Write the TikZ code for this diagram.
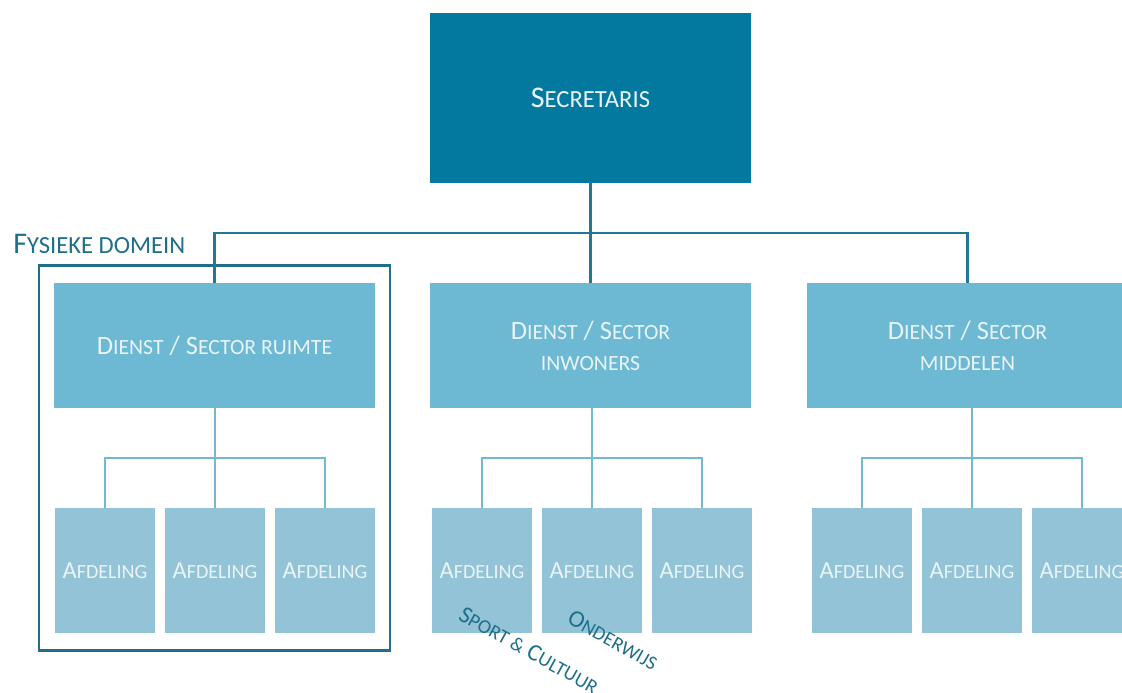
\documentclass[tikz,border=0pt]{standalone}
\usepackage{fontspec}
\setmainfont{Carlito}
\newfontfamily\scfont[Scale=0.82]{Carlito}
\newcommand{\sm}[1]{{\scfont\MakeUppercase{#1}}}
\usepackage{tikz}
\usetikzlibrary{shapes.geometric, arrows, positioning, calc, fit}

\definecolor{chiefblue}{HTML}{04799F}
\definecolor{sectorblue}{HTML}{6DB9D4}
\definecolor{unitblue}{HTML}{93C3D6}
\definecolor{boxtext}{HTML}{E9F4F8}
\definecolor{linedark}{HTML}{1F7894}
\definecolor{linelight}{HTML}{72B9D1}
\definecolor{domaintext}{HTML}{1F6F8B}

\tikzstyle{chief} = [rectangle, minimum width=321pt, minimum height=170pt, outer sep=0pt, fill=chiefblue, text=boxtext, font=\fontsize{30}{36}\selectfont]
\tikzstyle{sector} = [rectangle, minimum width=321pt, minimum height=125pt, outer sep=0pt, align=center, fill=sectorblue, text=boxtext, font=\fontsize{26.5}{31}\selectfont]
\tikzstyle{unit} = [rectangle, minimum width=100pt, minimum height=125pt, inner sep=0pt, outer sep=0pt, fill=unitblue, text=boxtext, font=\fontsize{24.5}{28}\selectfont]
\tikzstyle{domainbox} = [rectangle, draw=domaintext, line width=2.5pt, inner xsep=15pt, inner ysep=17.5pt]
\tikzstyle{taglabel} = [text=domaintext, font=\fontsize{24}{28}\selectfont, rotate=-29]
\tikzstyle{line} = [line width=2.5pt, draw=linedark]
\tikzstyle{subline} = [line width=2pt, draw=linelight]

\begin{document}
\begin{tikzpicture}[node distance=110pt]
\useasboundingbox (0,0) rectangle (1122pt,-693pt);
\clip (0,0) rectangle (1122pt,-693pt);

\node (secretaris) [chief] at (590.5pt,-98pt) {S\sm{ecretaris}};

\node (inwoners) [sector, below of=secretaris, node distance=247.5pt] {D\sm{ienst} / S\sm{ector}\\\sm{inwoners}};
\node (ruimte) [sector, left of=inwoners, node distance=376pt] {D\sm{ienst} / S\sm{ector ruimte}};
\node (middelen) [sector, right of=inwoners, node distance=377pt] {D\sm{ienst} / S\sm{ector}\\\sm{middelen}};

% afdelingen onder ruimte
\node (ruimte-1) [unit, below of=ruimte, node distance=225pt, xshift=-109.5pt] {A\sm{fdeling}};
\node (ruimte-2) [unit, right of=ruimte-1] {A\sm{fdeling}};
\node (ruimte-3) [unit, right of=ruimte-2] {A\sm{fdeling}};

% afdelingen onder inwoners
\node (inwoners-1) [unit, below of=inwoners, node distance=225pt, xshift=-108.5pt] {A\sm{fdeling}};
\node (inwoners-2) [unit, right of=inwoners-1] {A\sm{fdeling}};
\node (inwoners-3) [unit, right of=inwoners-2] {A\sm{fdeling}};

% afdelingen onder middelen
\node (middelen-1) [unit, below of=middelen, node distance=225pt, xshift=-105.5pt] {A\sm{fdeling}};
\node (middelen-2) [unit, right of=middelen-1] {A\sm{fdeling}};
\node (middelen-3) [unit, right of=middelen-2] {A\sm{fdeling}};

\node (fysiek) [domainbox, fit=(ruimte)(ruimte-1)(ruimte-3)] {};
\node (fysiek-label) [anchor=base west, text=domaintext, font=\fontsize{30}{34}\selectfont] at ($(fysiek.north west)+(-28pt,11pt)$) {F\sm{ysieke domein}};

\node (sport) [taglabel] at ($(inwoners-1.center)+(47pt,-79.5pt)$) {S\sm{port \&} C\sm{ultuur}};
\node (onderwijs) [taglabel] at ($(inwoners-2.center)+(21pt,-69.5pt)$) {O\sm{nderwijs}};

\coordinate (hub) at ($(secretaris.south)!0.5!(inwoners.north)$);
\draw [line] (secretaris.south) -- (inwoners.north);
\draw [line] (ruimte.north) |- (hub) -| (middelen.north);

\foreach \s in {ruimte, inwoners, middelen} {
  \coordinate (\s-hub) at ($(\s.south)!0.5!(\s-2.north)$);
  \draw [subline] (\s-2.north) -- (\s-2.north |- \s.south);
  \draw [subline] (\s-1.north) |- (\s-hub) -| (\s-3.north);
}

\end{tikzpicture}
\end{document}
